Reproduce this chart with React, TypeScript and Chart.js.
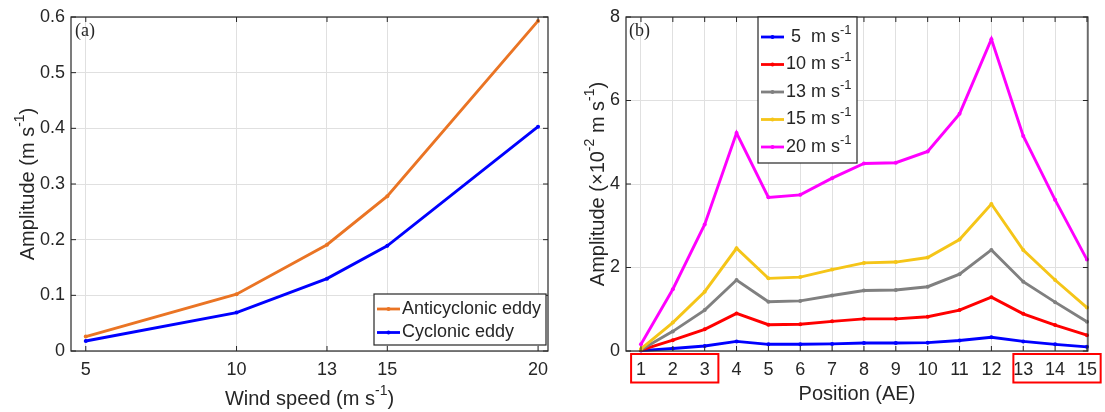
import React, { useEffect, useRef } from "react";
import { Chart, registerables } from "chart.js";
Chart.register(...registerables);

// ---------- Panel (a) data ----------
const windSpeeds = [5, 10, 13, 15, 20];
const anticyclonicAmp = [0.026, 0.102, 0.191, 0.278, 0.593];
const cyclonicAmp = [0.018, 0.069, 0.13, 0.189, 0.403];
const leftSeriesLabels = ["Anticyclonic eddy", "Cyclonic eddy"];
const leftYTicks = [0, 0.1, 0.2, 0.3, 0.4, 0.5, 0.6];

// ---------- Panel (b) data ----------
const positions = [1, 2, 3, 4, 5, 6, 7, 8, 9, 10, 11, 12, 13, 14, 15];
const amp5 = [0.01, 0.06, 0.12, 0.23, 0.16, 0.16, 0.17, 0.19, 0.19, 0.2, 0.25, 0.33, 0.23, 0.16, 0.1];
const amp10 = [0.02, 0.26, 0.52, 0.9, 0.63, 0.64, 0.71, 0.77, 0.77, 0.82, 0.98, 1.29, 0.89, 0.62, 0.38];
const amp13 = [0.03, 0.47, 0.98, 1.7, 1.18, 1.2, 1.33, 1.45, 1.46, 1.54, 1.84, 2.42, 1.66, 1.17, 0.7];
const amp15 = [0.05, 0.68, 1.42, 2.46, 1.74, 1.77, 1.95, 2.11, 2.13, 2.24, 2.67, 3.52, 2.42, 1.7, 1.04];
const amp20 = [0.16, 1.48, 3.03, 5.22, 3.68, 3.74, 4.14, 4.49, 4.51, 4.78, 5.68, 7.47, 5.15, 3.62, 2.19];
const rightSeriesLabels = [" 5  m s^{-1}", "10 m s^{-1}", "13 m s^{-1}", "15 m s^{-1}", "20 m s^{-1}"];
const rightYTicks = [0, 2, 4, 6, 8];
const highlightGroups = [
  [1, 3],
  [13, 15],
];

const TEXT = "#262626";
const SANS = "'Liberation Sans', Arial, Helvetica, sans-serif";
const SERIF = "'Liberation Serif', 'Times New Roman', serif";

type Seg = { t: string; sup: boolean };
function parseRich(s: string): Seg[] {
  const out: Seg[] = [];
  const re = /\^\{([^}]*)\}/g;
  let last = 0;
  let m: RegExpExecArray | null;
  while ((m = re.exec(s))) {
    if (m.index > last) out.push({ t: s.slice(last, m.index), sup: false });
    out.push({ t: m[1], sup: true });
    last = m.index + m[0].length;
  }
  if (last < s.length) out.push({ t: s.slice(last), sup: false });
  return out;
}

function richWidth(ctx: CanvasRenderingContext2D, s: string, size: number) {
  let w = 0;
  for (const seg of parseRich(s)) {
    ctx.font = `${seg.sup ? Math.round(size * 0.7) : size}px ${SANS}`;
    w += ctx.measureText(seg.t).width;
  }
  return w;
}

function drawRich(
  ctx: CanvasRenderingContext2D,
  s: string,
  x: number,
  y: number,
  size: number,
  align: "left" | "center"
) {
  const total = richWidth(ctx, s, size);
  let cx = align === "center" ? x - total / 2 : x;
  ctx.textBaseline = "middle";
  ctx.textAlign = "left";
  ctx.fillStyle = TEXT;
  for (const seg of parseRich(s)) {
    const fs = seg.sup ? Math.round(size * 0.7) : size;
    ctx.font = `${fs}px ${SANS}`;
    ctx.fillText(seg.t, cx, seg.sup ? y - size * 0.38 : y);
    cx += ctx.measureText(seg.t).width;
  }
}

const decorPlugin = {
  id: "decor",
  afterDatasetsDraw(chart: any, _args: any, opts: any) {
    const ctx: CanvasRenderingContext2D = chart.ctx;
    const { left, right, top, bottom } = chart.chartArea;
    const xs = chart.scales.x;
    const ys = chart.scales.y;
    ctx.save();
    // box
    ctx.strokeStyle = TEXT;
    ctx.lineWidth = 1.2;
    ctx.strokeRect(left, top, right - left, bottom - top);
    // inward ticks on all sides
    ctx.lineWidth = 1;
    const tl = 5;
    ctx.beginPath();
    for (const t of xs.ticks) {
      const px = xs.getPixelForValue(t.value);
      ctx.moveTo(px, bottom);
      ctx.lineTo(px, bottom - tl);
      ctx.moveTo(px, top);
      ctx.lineTo(px, top + tl);
    }
    for (const t of ys.ticks) {
      const py = ys.getPixelForValue(t.value);
      ctx.moveTo(left, py);
      ctx.lineTo(left + tl, py);
      ctx.moveTo(right, py);
      ctx.lineTo(right - tl, py);
    }
    ctx.stroke();

    // panel label
    ctx.font = `18px ${SERIF}`;
    ctx.fillStyle = TEXT;
    ctx.textBaseline = "middle";
    ctx.textAlign = "left";
    ctx.fillText(opts.panel, left + opts.panelDx, top + 14);

    // axis titles
    drawRich(ctx, opts.xTitle, (left + right) / 2, opts.xTitleY, 20, "center");
    ctx.save();
    ctx.translate(opts.yTitleX, (top + bottom) / 2);
    ctx.rotate(-Math.PI / 2);
    drawRich(ctx, opts.yTitle, 0, 0, 20, "center");
    ctx.restore();

    // legend
    const lg = opts.legend;
    const bx = lg.right ? right - lg.right - lg.w : lg.x;
    const by = lg.bottom ? bottom - lg.bottom - lg.h : lg.y;
    ctx.fillStyle = "#ffffff";
    ctx.fillRect(bx, by, lg.w, lg.h);
    ctx.strokeStyle = TEXT;
    ctx.lineWidth = 1.2;
    ctx.strokeRect(bx, by, lg.w, lg.h);
    chart.data.datasets.forEach((ds: any, i: number) => {
      const ry = by + lg.first + i * lg.rowH;
      ctx.strokeStyle = ds.borderColor;
      ctx.lineWidth = 2.8;
      ctx.beginPath();
      ctx.moveTo(bx + 3, ry);
      ctx.lineTo(bx + 3 + lg.lineLen, ry);
      ctx.stroke();
      ctx.fillStyle = ds.borderColor;
      ctx.beginPath();
      ctx.arc(bx + 3 + lg.lineLen / 2, ry, 2, 0, Math.PI * 2);
      ctx.fill();
      drawRich(ctx, ds.label, bx + 5 + lg.lineLen, ry, 18, "left");
    });

    // highlight boxes around tick labels
    if (opts.highlights) {
      const step = xs.getPixelForValue(2) - xs.getPixelForValue(1);
      ctx.strokeStyle = "#ff0000";
      ctx.lineWidth = 2;
      for (const [a, b] of opts.highlights) {
        const x1 = xs.getPixelForValue(a) - 0.31 * step;
        const x2 = xs.getPixelForValue(b) + 0.43 * step;
        ctx.strokeRect(x1, bottom + 3, x2 - x1, 28.5);
      }
    }
    ctx.restore();
  },
};

function lineDs(label: string, xs: number[], ys: number[], color: string, order: number) {
  return {
    label,
    data: xs.map((x, i) => ({ x, y: ys[i] })),
    borderColor: color,
    backgroundColor: color,
    borderWidth: 2.9,
    pointRadius: 2,
    pointBorderWidth: 0,
    pointBackgroundColor: color,
    tension: 0,
    clip: false,
    order,
  };
}

function baseScales(
  xMin: number,
  xMax: number,
  xTicks: number[],
  yMax: number,
  yTicks: number[],
  yWidth: number,
  fmt: (v: number) => string
) {
  const tickFont = { family: SANS, size: 18 };
  return {
    x: {
      type: "linear",
      min: xMin,
      max: xMax,
      afterBuildTicks: (s: any) => {
        s.ticks = xTicks.map((v) => ({ value: v }));
      },
      afterFit: (s: any) => {
        s.height = 61;
      },
      ticks: {
        font: tickFont,
        color: TEXT,
        padding: 8,
        maxRotation: 0,
        autoSkip: false,
        callback: (v: number) => String(v),
      },
      grid: { color: "#e0e0e0", lineWidth: 1, drawTicks: false },
      border: { display: false },
    },
    y: {
      type: "linear",
      min: 0,
      max: yMax,
      afterBuildTicks: (s: any) => {
        s.ticks = yTicks.map((v) => ({ value: v }));
      },
      afterFit: (s: any) => {
        s.width = yWidth;
      },
      ticks: {
        font: tickFont,
        color: TEXT,
        padding: 6,
        callback: (v: number) => fmt(v),
      },
      grid: { color: "#e0e0e0", lineWidth: 1, drawTicks: false },
      border: { display: false },
    },
  };
}

function PanelA() {
  const ref = useRef<HTMLCanvasElement | null>(null);
  useEffect(() => {
    if (!ref.current) return;
    const chart = new Chart(ref.current, {
      type: "line",
      data: {
        datasets: [
          lineDs(leftSeriesLabels[0], windSpeeds, anticyclonicAmp, "#EA7424", 1),
          lineDs(leftSeriesLabels[1], windSpeeds, cyclonicAmp, "#0000FF", 0),
        ],
      },
      options: {
        animation: false,
        responsive: false,
        devicePixelRatio: 1,
        layout: { padding: { top: 17, right: 12, left: 0, bottom: 0 } },
        scales: baseScales(4.51, 20.33, windSpeeds, 0.6, leftYTicks, 71, (v) =>
          String(Number(v.toFixed(1)))
        ) as any,
        plugins: {
          legend: { display: false },
          tooltip: { enabled: false },
          decor: {
            panel: "(a)",
            panelDx: 4,
            xTitle: "Wind speed (m s^{-1})",
            xTitleY: 399,
            yTitle: "Amplitude (m s^{-1})",
            yTitleX: 28,
            legend: { right: 2, bottom: 6, w: 172, h: 51, first: 15, rowH: 23.5, lineLen: 23 },
          },
        } as any,
      },
      plugins: [decorPlugin],
    } as any);
    return () => chart.destroy();
  }, []);
  return <canvas ref={ref} width={560} height={412} style={{ position: "absolute", left: 0, top: 0 }} />;
}

function PanelB() {
  const ref = useRef<HTMLCanvasElement | null>(null);
  useEffect(() => {
    if (!ref.current) return;
    const colors = ["#0000FF", "#FF0000", "#808080", "#F5C518", "#FF00FF"];
    const series = [amp5, amp10, amp13, amp15, amp20];
    const chart = new Chart(ref.current, {
      type: "line",
      data: {
        datasets: series.map((s, i) => lineDs(rightSeriesLabels[i], positions, s, colors[i], series.length - 1 - i)),
      },
      options: {
        animation: false,
        responsive: false,
        devicePixelRatio: 1,
        layout: { padding: { top: 17, right: 13, left: 0, bottom: 0 } },
        scales: baseScales(0.53, 15.03, positions, 8, rightYTicks, 66, (v) => String(v)) as any,
        plugins: {
          legend: { display: false },
          tooltip: { enabled: false },
          decor: {
            panel: "(b)",
            panelDx: 3,
            xTitle: "Position (AE)",
            xTitleY: 394,
            yTitle: "Amplitude (\u00D710^{-2} m s^{-1})",
            yTitleX: 38,
            highlights: highlightGroups,
            legend: { x: 198, y: 17, w: 99, h: 146, first: 20, rowH: 27.5, lineLen: 23 },
          },
        } as any,
      },
      plugins: [decorPlugin],
    } as any);
    return () => chart.destroy();
  }, []);
  return <canvas ref={ref} width={545} height={412} style={{ position: "absolute", left: 560, top: 0 }} />;
}

export default function App() {
  return (
    <div
      style={{
        position: "fixed",
        left: 0,
        top: 0,
        width: 1105,
        height: 412,
        background: "#ffffff",
        overflow: "hidden",
      }}
    >
      <PanelA />
      <PanelB />
    </div>
  );
}
